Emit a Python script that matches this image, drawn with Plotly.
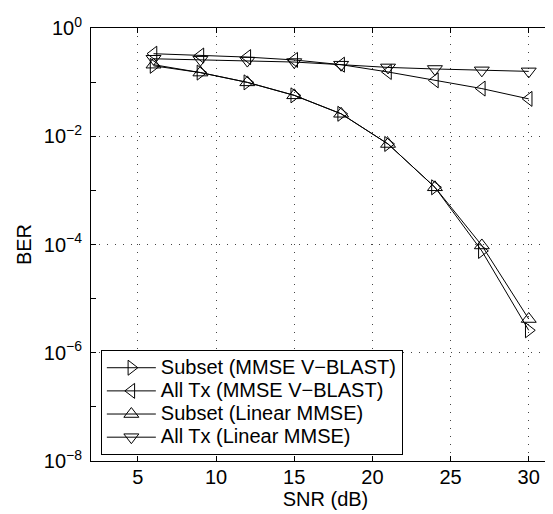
import plotly.graph_objects as go

snr = [6, 9, 12, 15, 18, 21, 24, 27, 30]
subset_vblast = [0.20, 0.15, 0.099, 0.057, 0.026, 0.0072, 0.00114, 7.6e-5, 2.6e-6]
alltx_vblast = [0.335, 0.31, 0.29, 0.257, 0.21, 0.154, 0.108, 0.076, 0.049]
subset_linear = [0.21, 0.15, 0.099, 0.057, 0.026, 0.0072, 0.00114, 9.6e-5, 4.2e-6]
alltx_linear = [0.27, 0.26, 0.25, 0.235, 0.21, 0.187, 0.175, 0.165, 0.158]

names = ["Subset (MMSE V\u2212BLAST)", "All Tx (MMSE V\u2212BLAST)",
         "Subset (Linear MMSE)", "All Tx (Linear MMSE)"]
series = [subset_vblast, alltx_vblast, subset_linear, alltx_linear]
symbols = ["triangle-right-open", "triangle-left-open",
           "triangle-up-open", "triangle-down-open"]

xticks = [5, 10, 15, 20, 25, 30]
yticks = [1, 1e-2, 1e-4, 1e-6, 1e-8]
yticktext = ["10<sup>0</sup>", "10<sup>\u22122</sup>", "10<sup>\u22124</sup>",
             "10<sup>\u22126</sup>", "10<sup>\u22128</sup>"]
yminor = [1e-1, 1e-3, 1e-5, 1e-7]

fig = go.Figure()
for nm, ys, sym in zip(names, series, symbols):
    fig.add_trace(go.Scatter(
        x=snr, y=ys, mode="lines+markers",
        name='<span style="font-size:20px">' + nm + '</span>',
        line=dict(color="black", width=1),
        marker=dict(symbol=sym, size=13, color="black",
                    line=dict(color="black", width=1)),
    ))

font = "Liberation Sans, Arial, Helvetica, sans-serif"
grid = "#444444"
fig.update_layout(
    width=553, height=514,
    margin=dict(l=83, r=1, t=20, b=61),
    paper_bgcolor="white", plot_bgcolor="white",
    font=dict(family=font, size=20, color="black"),
    showlegend=True,
    legend=dict(
        x=0.021, y=0.256, xanchor="left", yanchor="top",
        bordercolor="black", borderwidth=1, bgcolor="white",
        font=dict(size=15.5), itemwidth=49, tracegroupgap=0,
    ),
    xaxis=dict(
        range=[2, 32], tickvals=xticks, ticks="inside", ticklen=5,
        tickcolor="black", showline=True, linecolor="black", linewidth=1,
        mirror="ticks", showgrid=True, gridcolor=grid, griddash="1px,7px",
        gridwidth=1, zeroline=False, ticklabelstandoff=-2,
        tickfont=dict(size=20),
        title=dict(text="SNR (dB)", standoff=0, font=dict(size=20)),
    ),
    yaxis=dict(
        type="log", range=[-8, 0], tickvals=yticks, ticktext=yticktext,
        ticks="inside", ticklen=5, tickcolor="black", showline=True,
        linecolor="black", linewidth=1, mirror="ticks", showgrid=True,
        gridcolor=grid, griddash="1px,7px", gridwidth=1, zeroline=False,
        tickfont=dict(size=20), ticklabelstandoff=4,
        minor=dict(tickmode="array", tickvals=yminor, ticks="inside",
                   ticklen=5, tickcolor="black", showgrid=False),
        title=dict(text="BER", standoff=6, font=dict(size=20)),
    ),
)

fig.write_html("out.html")
